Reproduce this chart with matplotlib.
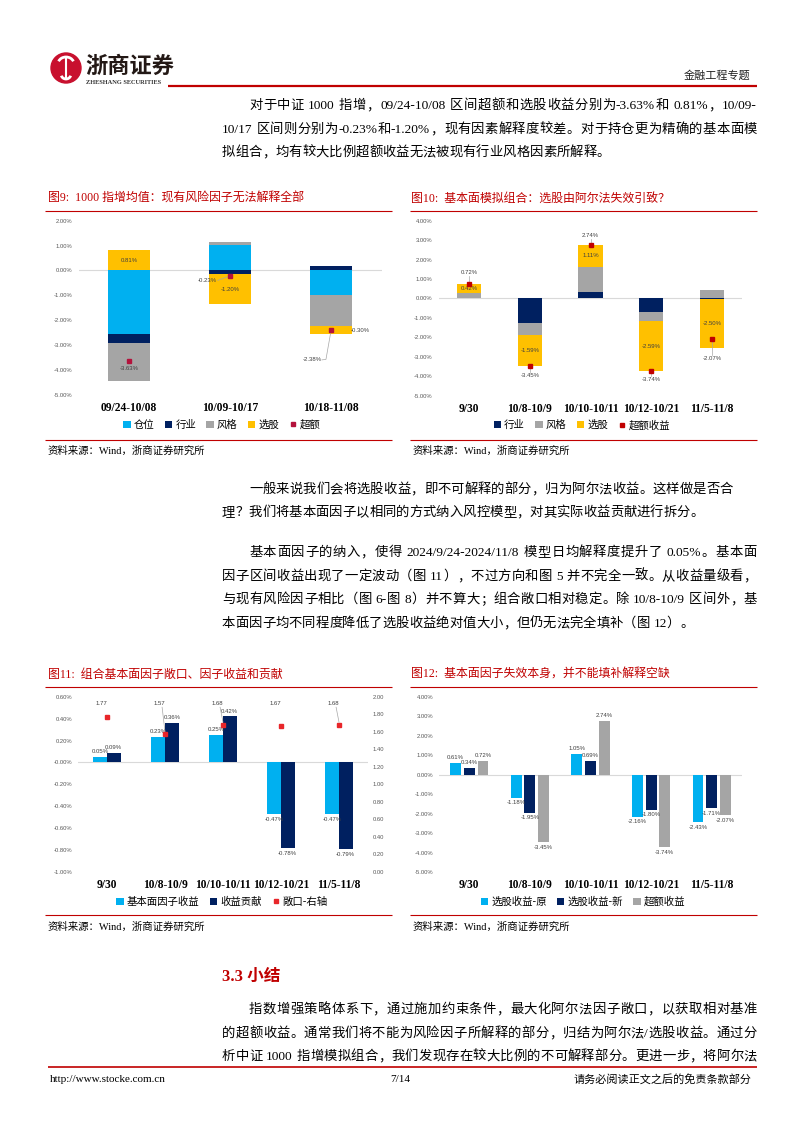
import re
import numpy as np
import matplotlib
matplotlib.use("Agg")
import matplotlib.pyplot as plt
from matplotlib.lines import Line2D
from matplotlib.patches import Circle, Patch, Arc
from matplotlib.ticker import FuncFormatter

plt.rcParams['font.family'] = ['Liberation Serif', 'Noto Sans CJK SC']

# ---- data ----
c9_cats = ["09/24-10/08", "10/09-10/17", "10/18-11/08"]
c9_cangwei = [-2.57, 1.02, -0.97]
c9_hangye = [-0.35, -0.16, 0.17]
c9_fengge = [-1.52, 0.11, -1.28]
c9_xuangu = [0.81, -1.20, -0.30]
c9_chaoe = [-3.63, -0.23, -2.38]

c10_cats = ["9/30", "10/8-10/9", "10/10-10/11", "10/12-10/21", "11/5-11/8"]
c10_hangye = [0.03, -1.27, 0.33, -0.70, -0.03]
c10_fengge = [0.27, -0.59, 1.30, -0.45, 0.46]
c10_xuangu = [0.42, -1.59, 1.11, -2.59, -2.50]
c10_chaoe = [0.72, -3.45, 2.74, -3.74, -2.07]

c11_cats = c10_cats
c11_factor_ret = [0.05, 0.23, 0.25, -0.47, -0.47]
c11_contrib = [0.09, 0.36, 0.42, -0.78, -0.79]
c11_expo = [1.77, 1.57, 1.68, 1.67, 1.68]

c12_cats = c10_cats
c12_old = [0.61, -1.18, 1.05, -2.16, -2.43]
c12_new = [0.34, -1.95, 0.69, -1.80, -1.71]
c12_excess = [0.72, -3.45, 2.74, -3.74, -2.07]

BLUE, NAVY, GRAY, GOLD = "#00B0F0", "#002060", "#A5A5A5", "#FFC000"
RED = "#C00000"
LBL = dict(fontsize=4.3, color="#404040", family="Liberation Sans")

W, H = 802, 1133
fig = plt.figure(figsize=(W / 100, H / 100), dpi=100)
page = fig.add_axes([0, 0, 1, 1])
page.set_xlim(0, W)
page.set_ylim(H, 0)
page.axis("off")
rend = fig.canvas.get_renderer()


def put_line(x0, y, s, x1=None, size=9.6, **kw):
    # justified line: spread the leftover space between tokens
    toks = re.findall(r'[\x21-\x7e]+| |.', s)
    ts = [page.text(0, y, t, fontsize=size, va="baseline", ha="left", **kw) for t in toks]
    ws = [t.get_window_extent(rend).width for t in ts]
    gap = 0 if x1 is None else (x1 - x0 - sum(ws)) / (len(ts) - 1)
    x = x0
    for t, w in zip(ts, ws):
        t.set_x(x)
        x += w + gap


def hline(x0, x1, y, lw=1.0, color=RED):
    page.plot([x0, x1], [y, y], color=color, lw=lw, solid_capstyle="butt")


def ax_box(x0, x1, y0, y1):
    return fig.add_axes([x0 / W, 1 - y1 / H, (x1 - x0) / W, (y1 - y0) / H])


def style(ax, ylim, step, cats, pad=5):
    ax.set_xlim(-0.5, len(cats) - 0.5)
    ax.set_ylim(*ylim)
    ax.set_yticks(np.arange(ylim[0], ylim[1] + 1e-9, step))
    ax.yaxis.set_major_formatter(FuncFormatter(lambda v, p: f"{v:.2f}%"))
    ax.tick_params(axis="y", length=0, pad=4.3, labelsize=4.2, labelcolor="#595959")
    for lab in ax.get_yticklabels():
        lab.set_family("Liberation Sans")
    ax.set_xticks(range(len(cats)))
    ax.set_xticklabels(cats, fontsize=8.3, fontweight="bold")
    ax.tick_params(axis="x", length=0, pad=pad)
    for s in ax.spines.values():
        s.set_visible(False)
    ax.axhline(0, color="#D9D9D9", lw=0.8, zorder=0)


def stack(ax, series, colors, width):
    x = np.arange(len(series[0]))
    pos = np.zeros(len(x))
    neg = np.zeros(len(x))
    mids = []
    for vals, c in zip(series, colors):
        v = np.array(vals)
        bottom = np.where(v >= 0, pos, neg)
        ax.bar(x, v, width, bottom=bottom, color=c, zorder=2)
        mids.append(bottom + v / 2)
        pos += np.where(v >= 0, v, 0)
        neg += np.where(v < 0, v, 0)
    return mids


def legend(ax, handles, labels, cx, cy):
    ax.legend(handles, labels, loc="center", bbox_to_anchor=(cx / W, 1 - cy / H),
              bbox_transform=fig.transFigure, ncol=len(labels), frameon=False,
              prop={"family": "Noto Sans CJK SC", "size": 7.5}, handlelength=0.7,
              handleheight=0.7, handletextpad=0.3, columnspacing=1.0)


def sq(c):
    return Patch(facecolor=c)


def mk(c):
    return Line2D([], [], ls="none", marker="s", ms=3, color=c)


# ---- header ----
page.add_patch(Circle((66, 68), 15, color="#C8102E"))
page.add_patch(Arc((66, 64), 16, 14, theta1=200, theta2=340, color="white", lw=2))
page.add_patch(Arc((66, 74), 10, 10, theta1=20, theta2=160, color="white", lw=2))
page.plot([66, 66], [58, 78], color="white", lw=1.5)
page.text(85, 66, "浙商证券", fontsize=16, fontweight="bold", color="#231815",
          va="center", family="Noto Sans CJK SC")
page.text(86, 83, "ZHESHANG SECURITIES", fontsize=4.6, fontweight="bold",
          color="#333333", va="center")
hline(168, 757, 86, lw=1.6)
page.text(750, 75, "金融工程专题", fontsize=8, color="#222222", ha="right", va="center")

# ---- text ----
put_line(249, 109, "对于中证 1000 指增，09/24-10/08 区间超额和选股收益分别为-3.63%和 0.81%，10/09-", 757)
put_line(222, 133, "10/17 区间则分别为-0.23%和-1.20%，现有因素解释度较差。对于持仓更为精确的基本面模", 757)
put_line(222, 156, "拟组合，均有较大比例超额收益无法被现有行业风格因素所解释。")

put_line(249, 493, "一般来说我们会将选股收益，即不可解释的部分，归为阿尔法收益。这样做是否合", 733)
put_line(222, 516, "理？我们将基本面因子以相同的方式纳入风控模型，对其实际收益贡献进行拆分。")

put_line(249, 556, "基本面因子的纳入，使得 2024/9/24-2024/11/8 模型日均解释度提升了 0.05%。基本面", 757)
put_line(222, 580, "因子区间收益出现了一定波动（图 11），不过方向和图 5 并不完全一致。从收益量级看，", 757)
put_line(222, 603, "与现有风险因子相比（图 6-图 8）并不算大；组合敞口相对稳定。除 10/8-10/9 区间外，基", 757)
put_line(222, 627, "本面因子均不同程度降低了选股收益绝对值大小，但仍无法完全填补（图 12）。")

page.text(222, 977, "3.3 小结", fontsize=12, fontweight="bold", color=RED, va="center")
put_line(249, 1013, "指数增强策略体系下，通过施加约束条件，最大化阿尔法因子敞口，以获取相对基准", 757)
put_line(222, 1037, "的超额收益。通常我们将不能为风险因子所解释的部分，归结为阿尔法/选股收益。通过分", 757)
put_line(222, 1060, "析中证 1000 指增模拟组合，我们发现存在较大比例的不可解释部分。更进一步，将阿尔法", 757)

hline(48, 757, 1067, lw=1.2)
page.text(50, 1079, "http://www.stocke.com.cn", fontsize=8, va="center")
page.text(400, 1079, "7/14", fontsize=8, va="center", ha="center")
page.text(752, 1079, "请务必阅读正文之后的免责条款部分", fontsize=8, va="center", ha="right")

# ---- chart frames ----
titles = [(48, 199, "图9:  1000 指增均值：现有风险因子无法解释全部"),
          (411, 199, "图10:  基本面模拟组合：选股由阿尔法失效引致？"),
          (48, 675, "图11:  组合基本面因子敞口、因子收益和贡献"),
          (411, 675, "图12:  基本面因子失效本身，并不能填补解释空缺")]
for x, y, t in titles:
    page.text(x, y, t, fontsize=8.6, color=RED, va="center")
for x0, x1 in [(45, 392), (410, 757)]:
    hline(x0, x1, 211, lw=0.8)
    hline(x0, x1, 440, lw=0.8)
    hline(x0, x1, 687, lw=0.8)
    hline(x0, x1, 915, lw=0.8)
    page.text(x0 + 3, 451, "资料来源：Wind，浙商证券研究所", fontsize=7.5, va="center")
    page.text(x0 + 3, 927, "资料来源：Wind，浙商证券研究所", fontsize=7.5, va="center")

# ---- 图9 ----
ax = ax_box(78.5, 381.5, 220.7, 394.7)
style(ax, (-5, 2), 1, c9_cats)
mids = stack(ax, [c9_cangwei, c9_hangye, c9_fengge, c9_xuangu], [BLUE, NAVY, GRAY, GOLD], 0.41)
ax.plot(range(3), c9_chaoe, ls="none", marker="s", ms=3, color="#B4123C", zorder=5)
ax.text(0, mids[3][0], f"{c9_xuangu[0]:.2f}%", ha="center", va="center", **LBL)
ax.text(1, mids[3][1], f"{c9_xuangu[1]:.2f}%", ha="center", va="center", **LBL)
ax.text(2.29, mids[3][2], f"{c9_xuangu[2]:.2f}%", ha="center", va="center", **LBL)
ax.text(0, c9_chaoe[0] - 0.32, f"{c9_chaoe[0]:.2f}%", ha="center", va="center", **LBL)
ax.text(0.78, c9_chaoe[1] - 0.17, f"{c9_chaoe[1]:.2f}%", ha="center", va="center", **LBL)
ax.plot([0.88, 0.98], [c9_chaoe[1] - 0.17, c9_chaoe[1] - 0.02], color="#A6A6A6", lw=0.5, zorder=4)
ax.text(1.81, c9_chaoe[2] - 1.22, f"{c9_chaoe[2]:.2f}%", ha="center", va="center", **LBL)
ax.plot([1.91, 1.95, 2.0], [c9_chaoe[2] - 1.22, c9_chaoe[2] - 1.2, c9_chaoe[2] - 0.05],
        color="#A6A6A6", lw=0.5, zorder=4)
legend(ax, [sq(BLUE), sq(NAVY), sq(GRAY), sq(GOLD), mk("#B4123C")],
       ["仓位", "行业", "风格", "选股", "超额"], 222, 425)

# ---- 图10 ----
ax = ax_box(438.6, 742.4, 220.7, 395.7)
style(ax, (-5, 4), 1, c10_cats)
mids = stack(ax, [c10_hangye, c10_fengge, c10_xuangu], [NAVY, GRAY, GOLD], 0.4)
ax.plot(range(5), c10_chaoe, ls="none", marker="s", ms=3, color=RED, zorder=5)
for i, v in enumerate(c10_xuangu):
    ax.text(i, mids[2][i], f"{v:.2f}%", ha="center", va="center", **LBL)
offs = [0.6, -0.52, 0.5, -0.45, -1.0]
for i, (v, o) in enumerate(zip(c10_chaoe, offs)):
    ax.text(i, v + o, f"{v:.2f}%", ha="center", va="center", **LBL)
    s = np.sign(o)
    ax.plot([i, i], [v + s * 0.08, v + o - s * 0.18], color="#A6A6A6", lw=0.5, zorder=4)
legend(ax, [sq(NAVY), sq(GRAY), sq(GOLD), mk(RED)],
       ["行业", "风格", "选股", "超额收益"], 582, 425)

# ---- 图11 ----
ax = ax_box(78, 368, 696.7, 872)
style(ax, (-1.0, 0.6), 0.2, c11_cats, pad=4.7)
x = np.arange(5)
ax.bar(x - 0.117, c11_factor_ret, 0.233, color=BLUE, zorder=2)
ax.bar(x + 0.117, c11_contrib, 0.233, color=NAVY, zorder=2)
for xs, vals in [(x - 0.117, c11_factor_ret), (x + 0.117, c11_contrib)]:
    for xi, v in zip(xs, vals):
        ax.annotate(f"{v:.2f}%", (xi, v), xytext=(0, 2 if v > 0 else -2),
                    textcoords="offset points", ha="center",
                    va="bottom" if v > 0 else "top", **LBL)
ax2 = ax.twinx()
ax2.set_ylim(0, 2)
ax2.set_yticks(np.arange(0, 2.01, 0.2))
ax2.yaxis.set_major_formatter(FuncFormatter(lambda v, p: f"{v:.2f}"))
ax2.tick_params(axis="y", length=0, pad=3.6, labelsize=4.2, labelcolor="#595959")
for lab in ax2.get_yticklabels():
    lab.set_family("Liberation Sans")
for s in ax2.spines.values():
    s.set_visible(False)
ax2.plot(x, c11_expo, ls="none", marker="s", ms=3, color="#E8262A", zorder=5)
for i, v in enumerate(c11_expo):
    ax2.text(i - 0.1, 1.92, f"{v:.2f}", ha="center", va="center", **LBL)
    if i in (1, 2, 4):
        ax2.plot([i - 0.05, i], [1.88, v + 0.03], color="#A6A6A6", lw=0.5)
legend(ax, [sq(BLUE), sq(NAVY), mk("#E8262A")],
       ["基本面因子收益", "收益贡献", "敞口-右轴"], 222, 902)

# ---- 图12 ----
ax = ax_box(439, 742, 696.7, 872)
style(ax, (-5, 4), 1, c12_cats, pad=4.7)
for off, vals, c in [(-0.226, c12_old, BLUE), (0, c12_new, NAVY), (0.226, c12_excess, GRAY)]:
    ax.bar(x + off, vals, 0.18, color=c, zorder=2)
    for xi, v in zip(x + off, vals):
        ax.annotate(f"{v:.2f}%", (xi, v), xytext=(0, 2 if v > 0 else -2),
                    textcoords="offset points", ha="center",
                    va="bottom" if v > 0 else "top", **LBL)
legend(ax, [sq(BLUE), sq(NAVY), sq(GRAY)],
       ["选股收益-原", "选股收益-新", "超额收益"], 583, 902)

fig.savefig("out.png", dpi=100)
